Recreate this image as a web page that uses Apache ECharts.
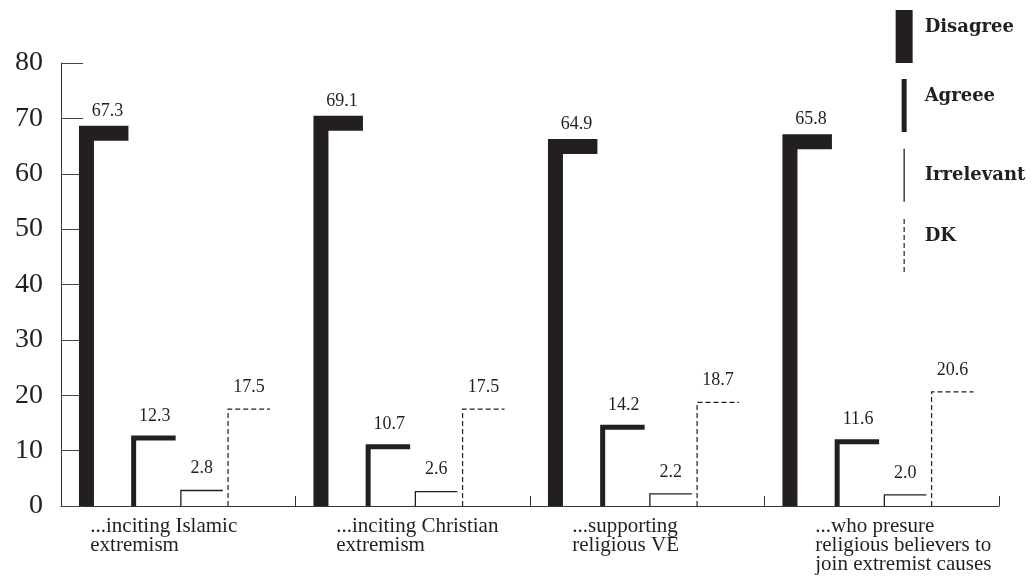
<!DOCTYPE html>
<html>
<head>
<meta charset="utf-8">
<script src="https://cdn.jsdelivr.net/npm/echarts@6/dist/echarts.min.js"></script>
<style>html,body{margin:0;padding:0;background:#fff}#c{width:1035px;height:576px}</style>
</head>
<body>
<div id="c"></div>
<script>
const categories = ["...inciting Islamic\nextremism", "...inciting Christian\nextremism", "...supporting\nreligious VE", "...who presure\nreligious believers to\njoin extremist causes"];
const seriesNames = ["Disagree", "Agreee", "Irrelevant", "DK"];
const disagree = [67.3, 69.1, 64.9, 65.8];
const agree = [12.3, 10.7, 14.2, 11.6];
const irrelevant = [2.8, 2.6, 2.2, 2.0];
const dk = [17.5, 17.5, 18.7, 20.6];
const yTicks = [0, 10, 20, 30, 40, 50, 60, 70, 80];

const INK = '#231f20';
const lineWidths = [15, 5, 1.3, 1.2];
const lineDashes = [null, null, null, [5, 3]];

function makeRender(sIdx) {
  return function (params, api) {
    const cat = api.value(0), val = api.value(1);
    const base = api.coord([cat, 0]);
    const top = api.coord([cat, val]);
    const band = api.size([1, 0])[0];
    const barW = band * 0.179, step = band * 0.2013;
    const groupW = step * 3 + barW;
    const x = base[0] - groupW / 2 + sIdx * step;
    return {
      type: 'group',
      children: [
        {
          type: 'polyline',
          shape: { points: [[x, base[1]], [x, top[1]], [x + barW, top[1]]] },
          style: {
            stroke: INK, fill: null, lineWidth: lineWidths[sIdx],
            lineDash: lineDashes[sIdx], lineJoin: 'miter', lineCap: 'butt'
          }
        },
        {
          type: 'text',
          style: {
            text: val.toFixed(1), x: x + barW / 2, y: top[1] - 13,
            align: 'center', verticalAlign: 'bottom',
            font: '18px "Liberation Serif"', fill: INK
          }
        }
      ]
    };
  };
}

const allValues = [disagree, agree, irrelevant, dk];
const series = allValues.map((arr, s) => ({
  type: 'custom',
  name: seriesNames[s],
  renderItem: makeRender(s),
  encode: { x: 0, y: 1 },
  itemStyle: { color: INK },
  data: arr.map((v, i) => [i, v])
}));

const legendData = [
  { name: seriesNames[0], icon: 'path://M0,0 M24,53 M0,0 L17,0 L17,53 L0,53 Z', itemStyle: { color: INK, borderWidth: 0 } },
  { name: seriesNames[1], icon: 'path://M0,0 M24,53 M6,0 L11,0 L11,53 L6,53 Z', itemStyle: { color: INK, borderWidth: 0 } },
  { name: seriesNames[2], icon: 'path://M0,0 M24,53 M8.5,0 L8.5,53', itemStyle: { color: 'transparent', borderColor: INK, borderWidth: 1.3 } },
  { name: seriesNames[3], icon: 'path://M0,0 M24,53 M8.5,0 L8.5,53', itemStyle: { color: 'transparent', borderColor: INK, borderWidth: 1.2, borderType: [5, 3] } }
];

const labelWidths = [176, 153, 150, 133];
const rich = {};
labelWidths.forEach((w, i) => {
  rich['c' + i] = { width: w, align: 'left', fontFamily: 'Liberation Serif', fontSize: 21, lineHeight: 19, color: INK };
});

const chart = echarts.init(document.getElementById('c'), null, { renderer: 'canvas' });
chart.setOption({
  animation: false,
  backgroundColor: '#fff',
  grid: { left: 61, right: 36, top: 63, bottom: 70 },
  legend: {
    orient: 'vertical', left: 895, top: 10, padding: 0,
    itemWidth: 24, itemHeight: 53, itemGap: 16,
    selectedMode: false,
    formatter: name => name === 'Irrelevant' ? name : name + '\n ',
    textStyle: { fontFamily: 'DejaVu Serif', fontWeight: 'bold', fontSize: 18, lineHeight: 19, color: INK },
    data: legendData
  },
  xAxis: {
    type: 'category',
    data: categories,
    axisLine: { lineStyle: { color: '#333', width: 1 } },
    axisTick: { show: true, inside: true, length: 10, lineStyle: { color: '#333', width: 1 } },
    axisLabel: {
      interval: 0, margin: 11,
      formatter: (v, i) => v.split('\n').map(l => '{c' + i + '|' + l + '}').join('\n'),
      rich: rich
    },
    splitLine: { show: false }
  },
  yAxis: {
    type: 'value', min: 0, max: 80, interval: 10,
    axisLine: { show: true, lineStyle: { color: '#333', width: 1 } },
    axisTick: { show: true, inside: true, length: 22, lineStyle: { color: '#444' } },
    axisLabel: {
      margin: 18, fontFamily: 'Liberation Serif', fontSize: 28, color: INK,
      formatter: v => yTicks.includes(v) ? String(v) : ''
    },
    splitLine: { show: false }
  },
  series: series
});
</script>
</body>
</html>
